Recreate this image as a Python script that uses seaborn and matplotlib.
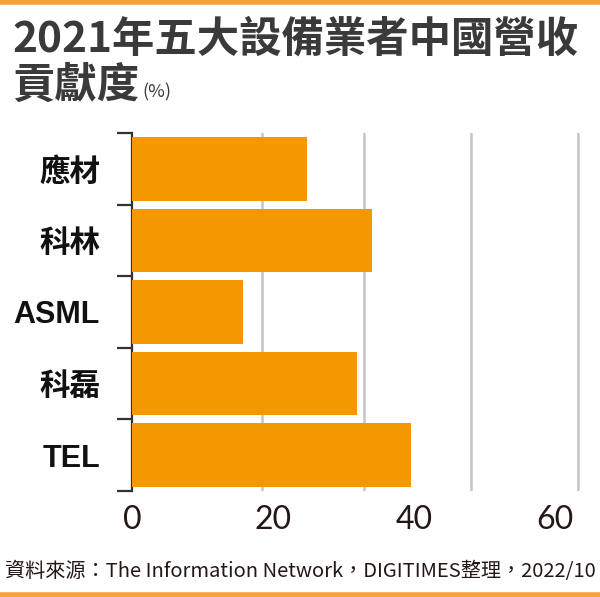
import matplotlib
matplotlib.use("Agg")
import matplotlib.pyplot as plt
import seaborn as sns
import pandas as pd
from matplotlib.lines import Line2D

# data
companies = ["應材", "科林", "ASML", "科磊", "TEL"]
china_share = [24.8, 34.0, 15.7, 31.9, 39.6]
tick_values = [0, 20, 40, 60]
grid_values = [18.4, 32.9, 48.1, 63.3]

df = pd.DataFrame({"company": companies, "share": china_share})

sns.set_theme(style="white")
plt.rcParams["font.family"] = ["Noto Sans CJK TC", "DejaVu Sans"]

ORANGE = "#F39800"

fig = plt.figure(figsize=(6.0, 5.97), dpi=100)
ax = fig.add_axes([0.22, 0.1776, 0.746, 0.5996])

sns.barplot(data=df, x="share", y="company", ax=ax, color=ORANGE,
            width=0.89, saturation=1, zorder=3, edgecolor="none")

ax.set_xlim(0, 63.5)
ax.set_ylim(4.5, -0.5)
ax.set_xlabel("")
ax.set_ylabel("")

# gridlines at odd places, as in the source graphic
ax.set_xticks(tick_values)
ax.set_xticks(grid_values, minor=True)
ax.grid(False)
ax.grid(axis="x", which="minor", color="#c4c4c4", linewidth=1.8, zorder=0)
ax.tick_params(axis="x", which="both", length=0, pad=10, labelcolor="#231815")
ax.set_xticklabels([str(v) for v in tick_values], fontsize=23,
                   family=["Lato", "DejaVu Sans"], fontweight="normal")

# y ticks: labels at centers, tick marks at category boundaries
ax.set_yticks(range(len(companies)))
ax.set_yticklabels(companies, fontsize=22, fontweight="bold", color="#111111",
                   family=["Liberation Sans", "Noto Sans CJK TC"])
ax.set_yticks([i - 0.5 for i in range(len(companies) + 1)], minor=True)
ax.tick_params(axis="y", which="major", length=0, pad=23)
ax.tick_params(axis="y", which="minor", length=11, width=1.6, color="#333333", left=True)

for s in ["top", "right", "bottom"]:
    ax.spines[s].set_visible(False)
ax.spines["left"].set_color("#333333")
ax.spines["left"].set_linewidth(1.6)
ax.spines["left"].set_zorder(1)

# title
fig.text(0.02, 0.933, "2021年五大設備業者中國營收", fontsize=30.5, color="#3a3a3a",
         fontweight="bold", ha="left", va="center")
fig.text(0.02, 0.857, "貢獻度", fontsize=30.5, color="#3a3a3a",
              fontweight="bold", ha="left", va="center")
fig.text(0.238, 0.845, "(%)", fontsize=13, color="#3a3a3a", ha="left", va="center")

# source
fig.text(0.5, 0.042, "資料來源：The Information Network，DIGITIMES整理，2022/10",
         fontsize=14.5, color="#231815", ha="center", va="center")

# orange rules top and bottom
fig.add_artist(Line2D([0, 1], [0.997, 0.997], color="#F5A23A", linewidth=4,
                      transform=fig.transFigure))
fig.add_artist(Line2D([0, 1], [0.003, 0.003], color="#F5A23A", linewidth=4,
                      transform=fig.transFigure))

fig.savefig("out.png", dpi=100, facecolor="white")
